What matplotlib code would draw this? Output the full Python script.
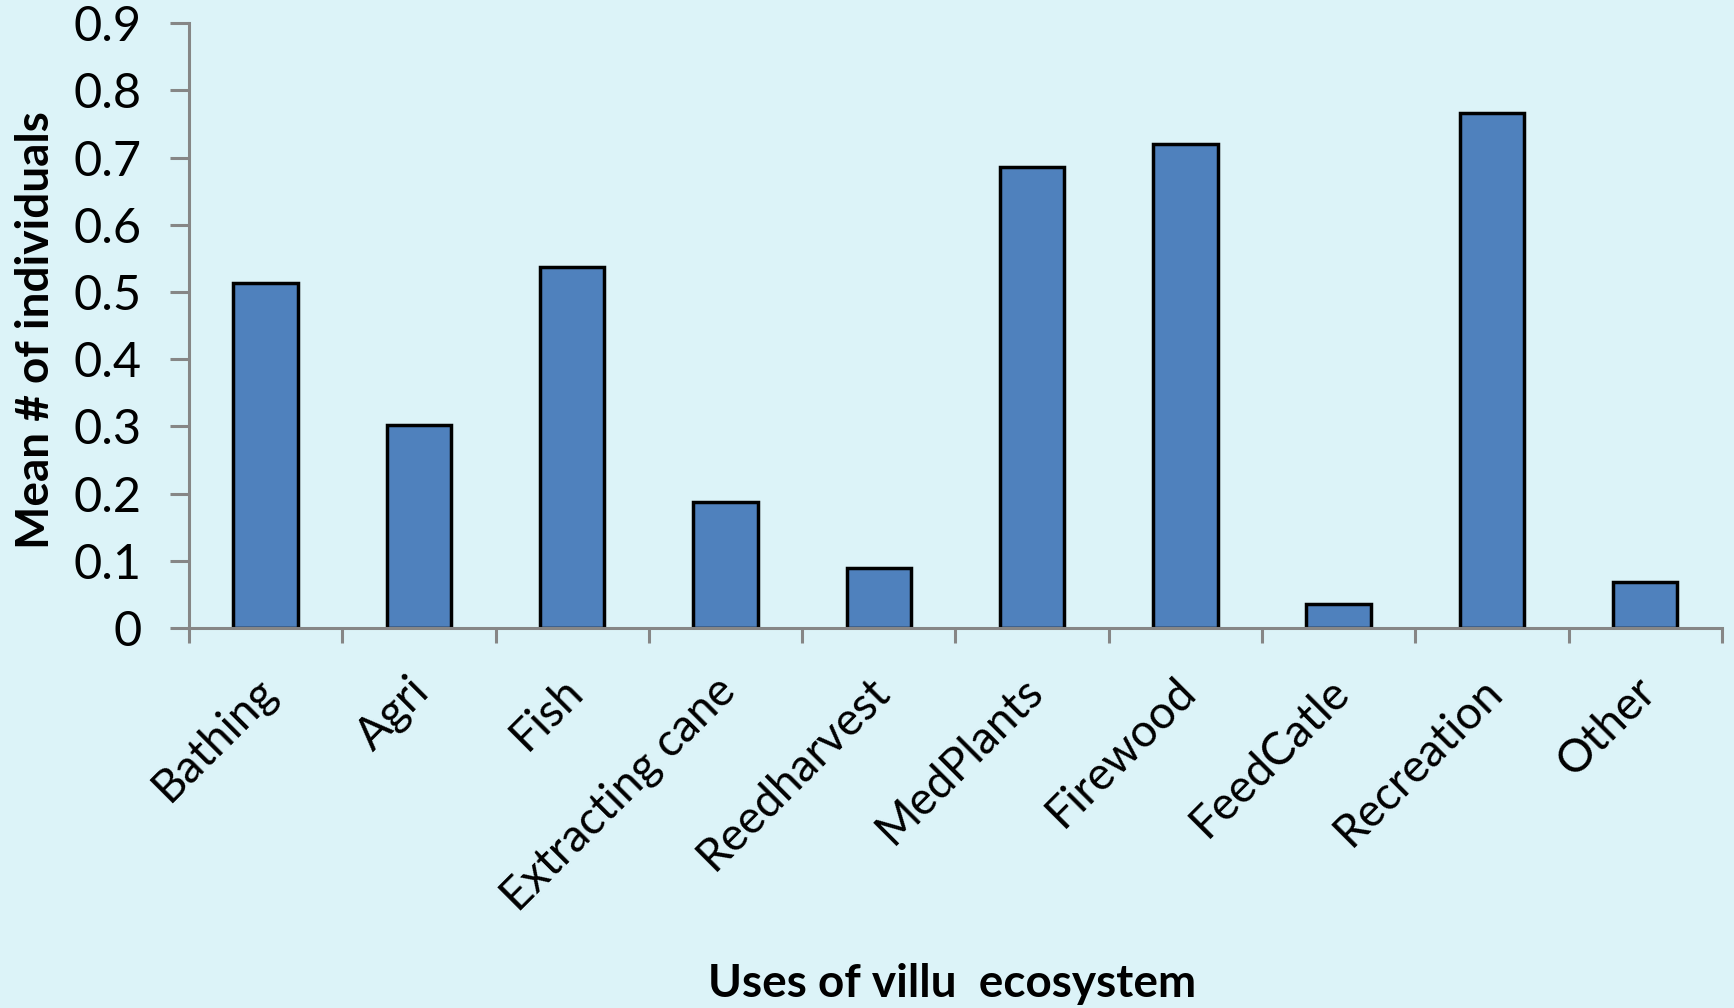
import numpy as np
import matplotlib.pyplot as plt
import matplotlib.transforms as mtransforms

uses = ["Bathing", "Agri", "Fish", "Extracting cane", "Reedharvest",
        "MedPlants", "Firewood", "FeedCatle", "Recreation", "Other"]
mean_individuals = [0.514, 0.302, 0.537, 0.188, 0.089,
                    0.686, 0.720, 0.035, 0.766, 0.068]
y_ticks = [0, 0.1, 0.2, 0.3, 0.4, 0.5, 0.6, 0.7, 0.8, 0.9]

bg = "#DCF3F8"
axis_grey = "#868686"

plt.rcParams["font.family"] = ["Lato", "DejaVu Sans"]

fig = plt.figure(figsize=(17.34, 10.08), dpi=100, facecolor=bg)
ax = fig.add_axes([0.109, 0.377, 0.884, 0.6])
ax.set_facecolor(bg)

x = np.arange(len(uses))
ax.bar(x, mean_individuals, width=0.42, color="#4F81BD",
       edgecolor="black", linewidth=2.5, zorder=2)

ax.set_xlim(-0.5, len(uses) - 0.5)
ax.set_ylim(0, 0.9)
ax.set_yticks(y_ticks)
ax.set_yticklabels([f"{v:g}" for v in y_ticks], fontsize=35)

# category boundaries get the tick marks, names sit at bar centres
ax.set_xticks(np.arange(len(uses) + 1) - 0.5)
ax.set_xticklabels([])
ax.set_xticks(x, minor=True)
ax.set_xticklabels(uses, minor=True, fontsize=33, rotation=45,
                   ha="right", va="top", rotation_mode="anchor")
ax.tick_params(axis="x", which="minor", length=0, pad=30)
ax.tick_params(axis="x", which="major", length=11, width=2.2, color=axis_grey)
ax.tick_params(axis="y", length=14, width=2.2, color=axis_grey, pad=20)

shift = mtransforms.ScaledTranslation(-11 / 100, 0, fig.dpi_scale_trans)
for lbl in ax.get_xticklabels(minor=True):
    lbl.set_transform(lbl.get_transform() + shift)

for side in ["top", "right"]:
    ax.spines[side].set_visible(False)
for side in ["left", "bottom"]:
    ax.spines[side].set_color(axis_grey)
    ax.spines[side].set_linewidth(2.2)

fig.text(0.021, 0.673, "Mean # of individuals", rotation=90, fontsize=33,
         fontweight="bold", ha="center", va="center")
fig.text(0.549, 0.024, "Uses of villu  ecosystem", fontsize=33,
         fontweight="bold", ha="center", va="center")

fig.savefig("out.png", dpi=100, facecolor=bg)
